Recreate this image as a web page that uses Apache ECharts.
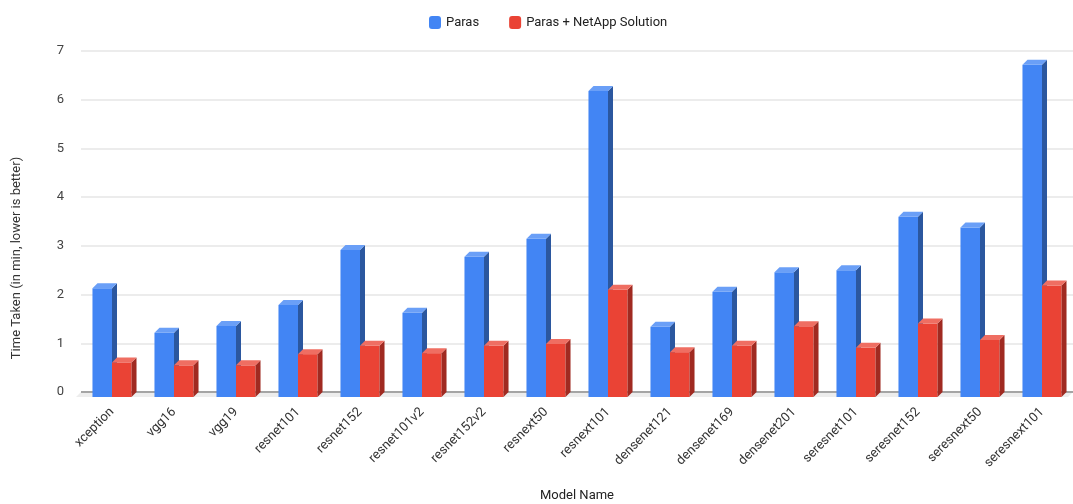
<!DOCTYPE html>
<html>
<head>
<meta charset="utf-8">
<script src="https://cdn.jsdelivr.net/npm/echarts@6/dist/echarts.min.js"></script>
<style>
  html, body { margin: 0; padding: 0; background: #fff; }
  #chart { width: 1073px; height: 504px; }
</style>
</head>
<body>
<div id="chart"></div>
<script>
// Training time per model, in minutes
const models = ['xception', 'vgg16', 'vgg19', 'resnet101', 'resnet152', 'resnet101v2',
  'resnet152v2', 'resnext50', 'resnext101', 'densenet121', 'densenet169', 'densenet201',
  'seresnet101', 'seresnet152', 'seresnext50', 'seresnext101'];
const paras = [2.23, 1.32, 1.46, 1.89, 3.02, 1.73, 2.88, 3.25, 6.28, 1.44, 2.16, 2.56,
  2.60, 3.70, 3.48, 6.82];
const parasNetApp = [0.71, 0.65, 0.65, 0.88, 1.05, 0.90, 1.05, 1.09, 2.20, 0.92, 1.05, 1.45,
  1.01, 1.51, 1.17, 2.29];
const yMin = 0, yMax = 7, yStep = 1;

const seriesNames = ['Paras', 'Paras + NetApp Solution'];
const palette = {
  blue: { front: '#4285f4', side: '#2b579f', top: '#6a9ff7' },
  red:  { front: '#ea4335', side: '#a02a21', top: '#ef6e62' }
};

// Pseudo-3D extrusion depth (px) and bar width as a share of the category band
const DEPTH = 5;
const BAR_FRAC = 0.315;

function bar3d(side, faces) {
  return function (params, api) {
    const idx = api.value(0);
    const top = api.coord([idx, api.value(1)]);
    const base = api.coord([idx, 0]);
    const w = api.size([1, 0])[0] * BAR_FRAC;
    const x0 = side === 'left' ? top[0] - w : top[0];
    const x1 = x0 + w;
    const yTop = top[1] + DEPTH;
    const yBot = base[1] + DEPTH;
    return {
      type: 'group',
      children: [
        { type: 'rect', shape: { x: x0, y: yTop, width: w, height: yBot - yTop },
          style: { fill: faces.front } },
        { type: 'polygon', shape: { points: [[x1, yTop], [x1 + DEPTH, yTop - DEPTH],
            [x1 + DEPTH, yBot - DEPTH], [x1, yBot]] },
          style: { fill: faces.side } },
        { type: 'polygon', shape: { points: [[x0, yTop], [x0 + DEPTH, yTop - DEPTH],
            [x1 + DEPTH, yTop - DEPTH], [x1, yTop]] },
          style: { fill: faces.top } }
      ]
    };
  };
}

// Floor strip under the category axis plus the baseline
function floor(params, api) {
  const cs = params.coordSys;
  const y0 = api.coord([0, 0])[1];
  const xL = cs.x, xR = cs.x + cs.width;
  return {
    type: 'group',
    children: [
      { type: 'polygon', shape: { points: [[xL, y0], [xR, y0], [xR - DEPTH, y0 + DEPTH], [xL - DEPTH, y0 + DEPTH]] },
        style: { fill: '#ededed' } },
      { type: 'line', shape: { x1: xL, y1: y0, x2: xR, y2: y0 },
        style: { stroke: '#8c8c8c', lineWidth: 1.5 } }
    ]
  };
}

const chart = echarts.init(document.getElementById('chart'));
const fontFamily = 'Roboto, "Liberation Sans", Arial, sans-serif';

chart.setOption({
  animation: false,
  backgroundColor: '#ffffff',
  textStyle: { fontFamily: fontFamily },
  legend: {
    top: 11,
    left: 424,
    itemWidth: 12,
    itemHeight: 13,
    itemGap: 30,
    icon: 'roundRect',
    textStyle: { fontSize: 13, color: '#222', fontFamily: fontFamily },
    data: [
      { name: seriesNames[0], itemStyle: { color: palette.blue.front } },
      { name: seriesNames[1], itemStyle: { color: palette.red.front } }
    ]
  },
  grid: { left: 81, right: 0, top: 51, bottom: 112, containLabel: false, outerBoundsMode: 'none' },
  xAxis: {
    type: 'category',
    data: models,
    boundaryGap: true,
    name: 'Model Name',
    nameLocation: 'middle',
    nameGap: 97,
    nameTextStyle: { fontSize: 13, color: '#222' },
    axisLine: { show: false },
    axisTick: { show: false },
    axisLabel: { rotate: 45, margin: 18, padding: [12, 0, 0, 0], fontSize: 13, color: '#333', interval: 0 }
  },
  yAxis: {
    type: 'value',
    min: yMin,
    max: yMax,
    interval: yStep,
    axisLine: { show: false },
    axisTick: { show: false },
    axisLabel: { fontSize: 13, color: '#444', margin: 17 },
    splitLine: { lineStyle: { color: '#e6e6e6', width: 1.5 } }
  },
  graphic: [{
    type: 'text',
    x: 17,
    y: 258,
    rotation: Math.PI / 2,
    style: {
      text: 'Time Taken (in min, lower is better)',
      fontSize: 13,
      fill: '#333',
      fontFamily: fontFamily,
      textAlign: 'center',
      textVerticalAlign: 'middle'
    }
  }],
  series: [
    {
      type: 'custom',
      name: 'floor',
      silent: true,
      z: 1,
      renderItem: floor,
      data: [[0, 0]],
      encode: { x: 0, y: 1 }
    },
    {
      type: 'custom',
      name: seriesNames[0],
      z: 3,
      itemStyle: { color: palette.blue.front },
      renderItem: bar3d('left', palette.blue),
      data: models.map((m, i) => [i, paras[i]]),
      encode: { x: 0, y: 1 }
    },
    {
      type: 'custom',
      name: seriesNames[1],
      z: 4,
      itemStyle: { color: palette.red.front },
      renderItem: bar3d('right', palette.red),
      data: models.map((m, i) => [i, parasNetApp[i]]),
      encode: { x: 0, y: 1 }
    }
  ]
});
</script>
</body>
</html>
